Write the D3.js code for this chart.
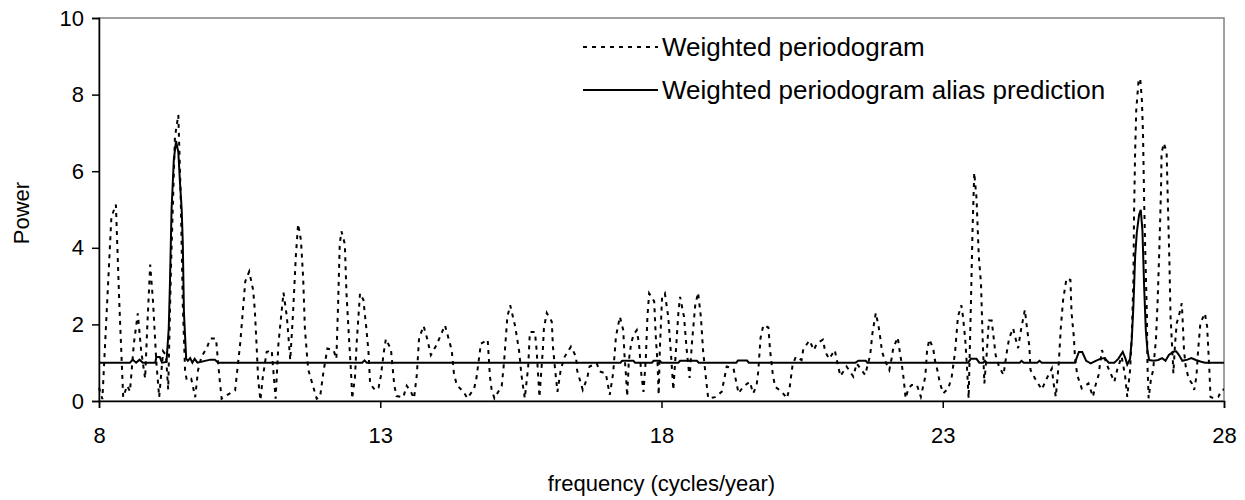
<!DOCTYPE html>
<html>
<head>
<meta charset="utf-8">
<script src="https://cdn.jsdelivr.net/npm/d3@7"></script>
<style>
  body { margin: 0; background: #fff; }
  text { font-family: "Liberation Sans", Arial, sans-serif; fill: #000; }
</style>
</head>
<body>
<div id="chart"></div>
<script>
var xTicks = [8, 13, 18, 23, 28];
var yTicks = [0, 2, 4, 6, 8, 10];
var seriesNames = ["Weighted periodogram", "Weighted periodogram alias prediction"];

var periodogramFreq = [
  8.00, 8.06, 8.22, 8.30, 8.36, 8.43, 8.50, 8.55, 8.62, 8.69, 8.75, 8.82, 8.86, 8.91, 8.96, 9.02, 9.07, 9.14, 9.19, 9.23,
  9.28, 9.35, 9.41, 9.45, 9.49, 9.53, 9.56, 9.64, 9.71, 9.76, 9.82, 9.92, 9.98, 10.08, 10.14, 10.18, 10.27, 10.42, 10.51, 10.60,
  10.67, 10.74, 10.77, 10.80, 10.83, 10.87, 10.91, 10.98, 11.07, 11.14, 11.19, 11.28, 11.34, 11.40, 11.45, 11.50, 11.54, 11.59, 11.63, 11.66,
  11.70, 11.72, 11.87, 11.93, 11.99, 12.06, 12.17, 12.22, 12.25, 12.28, 12.31, 12.37, 12.40, 12.45, 12.49, 12.50, 12.55, 12.58, 12.64, 12.70,
  12.75, 12.79, 12.82, 12.91, 12.97, 13.01, 13.06, 13.10, 13.19, 13.25, 13.29, 13.41, 13.47, 13.54, 13.60, 13.65, 13.69, 13.77, 13.83, 13.90,
  14.00, 14.15, 14.27, 14.31, 14.36, 14.48, 14.55, 14.67, 14.71, 14.79, 14.91, 14.95, 14.98, 15.03, 15.16, 15.20, 15.23, 15.26, 15.31, 15.40,
  15.47, 15.51, 15.54, 15.57, 15.63, 15.66, 15.75, 15.78, 15.83, 15.89, 15.91, 15.96, 16.05, 16.07, 16.11, 16.15, 16.21, 16.28, 16.39, 16.48,
  16.50, 16.60, 16.68, 16.72, 16.85, 16.90, 17.01, 17.08, 17.14, 17.19, 17.26, 17.32, 17.34, 17.37, 17.39, 17.42, 17.46, 17.50, 17.56, 17.60,
  17.64, 17.68, 17.72, 17.75, 17.78, 17.87, 17.90, 17.93, 17.95, 17.97, 18.01, 18.06, 18.12, 18.17, 18.21, 18.26, 18.30, 18.33, 18.40, 18.45,
  18.50, 18.54, 18.60, 18.65, 18.70, 18.74, 18.79, 18.83, 18.95, 19.07, 19.16, 19.28, 19.37, 19.45, 19.57, 19.63, 19.69, 19.72, 19.76, 19.81,
  19.90, 19.93, 19.98, 20.02, 20.14, 20.23, 20.28, 20.33, 20.39, 20.49, 20.52, 20.63, 20.71, 20.76, 20.87, 20.91, 20.98, 21.08, 21.13, 21.18,
  21.29, 21.41, 21.47, 21.62, 21.71, 21.75, 21.81, 21.86, 21.89, 21.92, 21.97, 22.05, 22.09, 22.12, 22.20, 22.24, 22.27, 22.30, 22.34, 22.39,
  22.45, 22.54, 22.61, 22.69, 22.72, 22.76, 22.83, 22.86, 22.91, 22.95, 23.01, 23.10, 23.16, 23.22, 23.27, 23.33, 23.36, 23.40, 23.43, 23.46,
  23.50, 23.53, 23.56, 23.60, 23.64, 23.68, 23.71, 23.74, 23.78, 23.82, 23.87, 23.94, 24.00, 24.08, 24.14, 24.18, 24.25, 24.30, 24.34, 24.39,
  24.46, 24.49, 24.54, 24.56, 24.64, 24.76, 24.85, 24.94, 24.97, 25.01, 25.06, 25.10, 25.14, 25.20, 25.27, 25.29, 25.33, 25.35, 25.39, 25.47,
  25.59, 25.67, 25.71, 25.77, 25.83, 25.92, 25.97, 26.05, 26.10, 26.18, 26.24, 26.28, 26.33, 26.36, 26.39, 26.40, 26.42, 26.44, 26.48, 26.51,
  26.54, 26.56, 26.58, 26.60, 26.63, 26.64, 26.66, 26.70, 26.74, 26.79, 26.82, 26.85, 26.88, 26.89, 26.93, 26.98, 27.00, 27.03, 27.05, 27.09,
  27.10, 27.13, 27.16, 27.21, 27.25, 27.27, 27.29, 27.32, 27.37, 27.43, 27.47, 27.51, 27.54, 27.58, 27.66, 27.70, 27.74, 27.76, 27.81, 27.90,
  27.96, 28.00
];
var periodogramPower = [
  0.35, 0.05, 4.8, 5.13, 2.6, 0.1, 0.4, 0.25, 1.5, 2.29, 1.3, 0.59, 2.0, 3.56, 2.6, 1.0, 0.1, 1.3, 1.2, 0.3,
  3.5, 6.9, 7.47, 5.5, 2.5, 0.8, 0.54, 0.58, 0.1, 0.8, 1.15, 1.4, 1.63, 1.63, 0.63, 0.06, 0.15, 0.28, 1.5, 3.12,
  3.38, 2.9, 2.38, 1.5, 0.55, 0.02, 0.6, 1.28, 1.33, 0.06, 1.5, 2.83, 2.2, 1.07, 2.3, 3.8, 4.62, 4.2, 3.2, 1.9,
  1.15, 0.82, 0.06, 0.1, 0.76, 1.37, 1.33, 1.1, 2.5, 4.1, 4.43, 4.1, 2.8, 1.5, 0.5, 0.06, 0.6, 1.5, 2.81, 2.64,
  1.94, 1.3, 0.45, 0.28, 0.35, 0.64, 1.24, 1.62, 1.35, 0.4, 0.13, 0.1, 0.4, 0.25, 0.07, 0.68, 1.64, 1.96, 1.65, 1.2,
  1.46, 1.98, 1.33, 0.72, 0.42, 0.24, 0.07, 0.33, 0.6, 1.5, 1.6, 0.64, 0.3, 0.07, 0.4, 1.0, 1.6, 2.2, 2.5, 1.94,
  1.29, 0.68, 0.37, 0.07, 0.9, 1.8, 1.8, 1.33, 0.1, 1.33, 1.9, 2.3, 2.07, 1.42, 0.8, 0.24, 0.83, 1.16, 1.42, 1.16,
  0.8, 0.29, 0.6, 0.9, 0.98, 0.77, 0.72, 0.16, 0.72, 1.68, 2.2, 1.85, 1.24, 0.64, 0.12, 1.07, 1.5, 1.72, 1.85, 1.5,
  0.72, 0.24, 1.07, 2.2, 2.81, 2.6, 1.64, 0.98, 0.16, 1.33, 2.7, 2.81, 2.2, 1.2, 0.29, 1.4, 2.3, 2.72, 2.2, 1.3,
  0.6, 1.5, 2.5, 2.83, 2.2, 1.3, 0.6, 0.07, 0.1, 0.24, 0.9, 0.85, 0.2, 0.37, 0.5, 0.2, 0.4, 0.77, 1.64, 1.98,
  1.92, 1.33, 0.68, 0.37, 0.24, 0.07, 0.37, 0.94, 1.16, 1.07, 1.35, 1.58, 1.33, 1.5, 1.6, 1.29, 1.1, 1.33, 0.98, 0.65,
  0.9, 0.64, 0.98, 0.68, 1.2, 1.77, 2.3, 1.94, 1.64, 1.29, 1.07, 0.81, 1.11, 1.38, 1.66, 1.25, 0.98, 0.64, 0.07, 0.33,
  0.42, 0.42, 0.11, 0.64, 1.29, 1.61, 1.38, 1.07, 0.77, 0.46, 0.2, 0.33, 0.64, 1.29, 2.2, 2.5, 2.2, 1.6, 0.9, 0.07,
  2.5, 4.5, 5.96, 5.3, 3.8, 3.07, 1.6, 0.46, 1.2, 2.1, 2.1, 1.2, 0.9, 0.68, 1.29, 1.64, 1.9, 1.6, 1.38, 1.85,
  2.38, 2.0, 1.42, 0.81, 0.59, 0.3, 0.59, 0.85, 0.46, 0.11, 0.94, 1.94, 2.64, 3.2, 3.16, 2.3, 1.68, 1.16, 0.68, 0.33,
  0.46, 0.11, 0.38, 0.68, 1.33, 0.94, 0.77, 0.5, 0.81, 1.16, 0.68, 0.11, 0.8, 1.68, 3.2, 4.8, 6.5, 7.6, 8.34, 8.42,
  7.86, 7.0, 5.25, 3.94, 2.2, 0.9, 0.07, 0.55, 0.81, 1.6, 2.6, 3.94, 5.5, 6.47, 6.73, 6.5, 5.3, 3.6, 2.2, 1.07,
  0.72, 1.5, 2.03, 2.3, 2.55, 1.94, 1.3, 0.9, 0.59, 0.46, 0.29, 0.64, 1.33, 2.03, 2.29, 1.94, 0.81, 0.11, 0.07, 0.11,
  0.29, 0.3
];

var aliasFreq = [
  8.00, 8.55, 8.60, 8.66, 8.72, 8.78, 9.00, 9.02, 9.08, 9.12, 9.20, 9.24, 9.26, 9.29, 9.33, 9.37, 9.41, 9.44, 9.47, 9.49,
  9.51, 9.55, 9.58, 9.62, 9.66, 9.70, 9.75, 9.98, 10.06, 10.12, 12.68, 12.72, 12.76, 17.27, 17.30, 17.50, 17.53, 17.83, 17.86, 17.97,
  18.00, 18.30, 18.33, 18.63, 18.66, 19.33, 19.36, 19.52, 19.55, 21.45, 21.50, 21.63, 21.66, 23.45, 23.50, 23.60, 23.65, 23.72, 23.75, 23.78,
  24.37, 24.40, 24.44, 24.68, 24.72, 24.76, 25.35, 25.42, 25.48, 25.55, 25.63, 25.72, 25.80, 25.88, 25.95, 26.05, 26.12, 26.20, 26.25, 26.28,
  26.33, 26.36, 26.39, 26.42, 26.45, 26.49, 26.52, 26.55, 26.58, 26.61, 26.64, 26.67, 26.75, 26.83, 26.90, 26.96, 27.02, 27.10, 27.15, 27.20,
  27.26, 27.35, 27.42, 27.50, 27.58, 27.66, 28.00
];
var aliasPower = [
  1.0, 1.0, 1.08, 1.0, 1.08, 1.0, 1.0, 1.15, 1.15, 1.0, 1.02, 1.9, 3.0, 5.0, 6.3, 6.79, 6.5, 5.7, 5.0, 4.1,
  2.3, 1.1, 1.05, 1.12, 1.0, 1.1, 1.0, 1.08, 1.08, 1.0, 1.0, 1.06, 1.0, 1.0, 1.05, 1.05, 1.0, 1.0, 1.05, 1.05,
  1.0, 1.0, 1.05, 1.05, 1.0, 1.0, 1.06, 1.06, 1.0, 1.0, 1.05, 1.05, 1.0, 1.0, 1.1, 1.1, 1.0, 1.0, 1.05, 1.0,
  1.0, 1.05, 1.0, 1.0, 1.05, 1.0, 1.0, 1.28, 1.28, 1.05, 0.98, 1.05, 1.1, 1.12, 1.0, 1.0, 1.1, 1.28, 1.1, 0.95,
  1.1, 1.6, 2.5, 3.77, 4.4, 4.86, 4.99, 4.45, 3.0, 1.85, 1.3, 1.07, 1.05, 1.07, 1.12, 1.05, 1.2, 1.29, 1.3, 1.2,
  1.05, 1.08, 1.12, 1.07, 1.03, 1.0, 1.0
];

var width = 1245, height = 500;
var margin = { left: 99, right: 21, top: 18, bottom: 99 };

var svg = d3.select("#chart")
            .append("svg")
              .attr("width", width)
              .attr("height", height);

var xScale = d3.scaleLinear()
               .domain([8, 28])
               .range([margin.left, width - margin.right]);

var yScale = d3.scaleLinear()
               .domain([0, 10])
               .range([height - margin.bottom, margin.top]);

svg.append("rect")
   .attr("x", margin.left)
   .attr("y", margin.top)
   .attr("width", width - margin.left - margin.right)
   .attr("height", height - margin.top - margin.bottom)
   .attr("fill", "none")
   .attr("stroke", "#808080")
   .attr("stroke-width", 1.5);

var line = d3.line()
             .x(d => xScale(d[0]))
             .y(d => yScale(d[1]));

svg.append("path")
   .datum(periodogramFreq.map((f, i) => [f, periodogramPower[i]]))
   .attr("d", line)
   .attr("fill", "none")
   .attr("stroke", "#000")
   .attr("stroke-width", 2)
   .attr("stroke-dasharray", "4,5");

svg.append("path")
   .datum(aliasFreq.map((f, i) => [f, aliasPower[i]]))
   .attr("d", line)
   .attr("fill", "none")
   .attr("stroke", "#000")
   .attr("stroke-width", 2);

var yAxis = svg.append("g")
               .attr("transform", "translate(" + margin.left + ",0)")
               .call(d3.axisLeft(yScale).tickValues(yTicks).tickSize(7).tickPadding(8).tickFormat(d3.format("d")));

var xAxis = svg.append("g")
               .attr("transform", "translate(0," + (height - margin.bottom) + ")")
               .call(d3.axisBottom(xScale).tickValues(xTicks).tickSize(7).tickPadding(19).tickFormat(d3.format("d")));

svg.selectAll(".domain, .tick line")
   .attr("stroke", "#000")
   .attr("stroke-width", 1.5);

svg.selectAll(".tick text")
   .style("font-size", "22px")
   .style("font-family", "'Liberation Sans', Arial, sans-serif");

svg.append("text")
   .attr("x", (margin.left + width - margin.right) / 2)
   .attr("y", 491)
   .attr("text-anchor", "middle")
   .style("font-size", "22px")
   .text("frequency (cycles/year)");

svg.append("text")
   .attr("transform", "translate(29," + 213 + ") rotate(-90)")
   .attr("text-anchor", "middle")
   .style("font-size", "22px")
   .text("Power");

var legend = svg.append("g");
var legendY = [47, 90];

legend.selectAll("line")
      .data(seriesNames)
      .enter()
      .append("line")
        .attr("x1", 583)
        .attr("x2", 658)
        .attr("y1", (d, i) => legendY[i])
        .attr("y2", (d, i) => legendY[i])
        .attr("stroke", "#000")
        .attr("stroke-width", 2)
        .attr("stroke-dasharray", (d, i) => i == 0 ? "4,5" : null);

legend.selectAll("text")
      .data(seriesNames)
      .enter()
      .append("text")
        .attr("x", 662)
        .attr("y", (d, i) => legendY[i])
        .attr("dy", "0.36em")
        .style("font-size", "26px")
        .text(d => d);
</script>
</body>
</html>
